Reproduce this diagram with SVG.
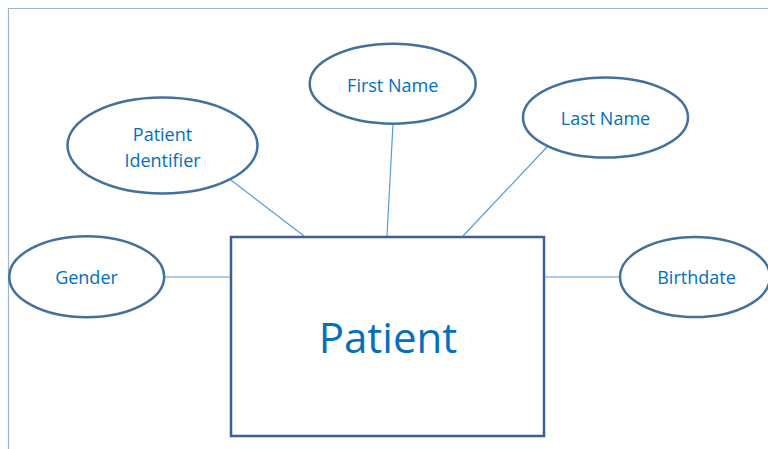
<svg xmlns="http://www.w3.org/2000/svg" width="768" height="449" viewBox="0 0 768 449">
<style>
.attr ellipse{fill:#ffffff;stroke:#41719c;stroke-width:2.5}
.lbl{font-family:"Open Sans","Noto Sans","Liberation Sans",sans-serif;font-size:18px;fill:#0070c0;text-anchor:middle}
.big{font-family:"Open Sans","Noto Sans","Liberation Sans",sans-serif;font-size:42px;fill:#0070c0;text-anchor:middle}
#connectors line{stroke:#5b9bd5;stroke-width:1.2}
</style>
<rect x="0" y="0" width="768" height="449" fill="#ffffff"/>
<g id="frame" fill="none" stroke="#9fb3cb" stroke-width="1.2">
<line x1="8" y1="8.5" x2="768" y2="8.5"/>
<line x1="8.5" y1="8" x2="8.5" y2="449"/>
</g>
<g id="connectors">
<line x1="231" y1="180" x2="304" y2="236"/>
<line x1="393" y1="124" x2="387" y2="236"/>
<line x1="547" y1="147" x2="463" y2="236"/>
<line x1="164" y1="277" x2="230" y2="277"/>
<line x1="544" y1="277" x2="620" y2="277"/>
</g>
<g id="patient">
<rect x="231" y="237" width="313" height="199" fill="#ffffff" stroke="#3a5e9e" stroke-width="2.5"/>
<text class="big" x="388" y="353">Patient</text>
</g>
<g id="patient-identifier" class="attr">
<ellipse cx="162.5" cy="145.5" rx="95" ry="48"/>
<text class="lbl" x="162.5" y="141">Patient</text>
<text class="lbl" x="162.5" y="166.5">Identifier</text>
</g>
<g id="first-name" class="attr">
<ellipse cx="392.7" cy="83.7" rx="83" ry="40"/>
<text class="lbl" x="392.7" y="92">First Name</text>
</g>
<g id="last-name" class="attr">
<ellipse cx="605.5" cy="117.5" rx="82.5" ry="40"/>
<text class="lbl" x="605.5" y="125">Last Name</text>
</g>
<g id="gender" class="attr">
<ellipse cx="86.7" cy="276.7" rx="77.5" ry="40.5"/>
<text class="lbl" x="86.5" y="284">Gender</text>
</g>
<g id="birthdate" class="attr">
<ellipse cx="695" cy="277" rx="75" ry="40"/>
<text class="lbl" x="696.5" y="284">Birthdate</text>
</g>
</svg>
